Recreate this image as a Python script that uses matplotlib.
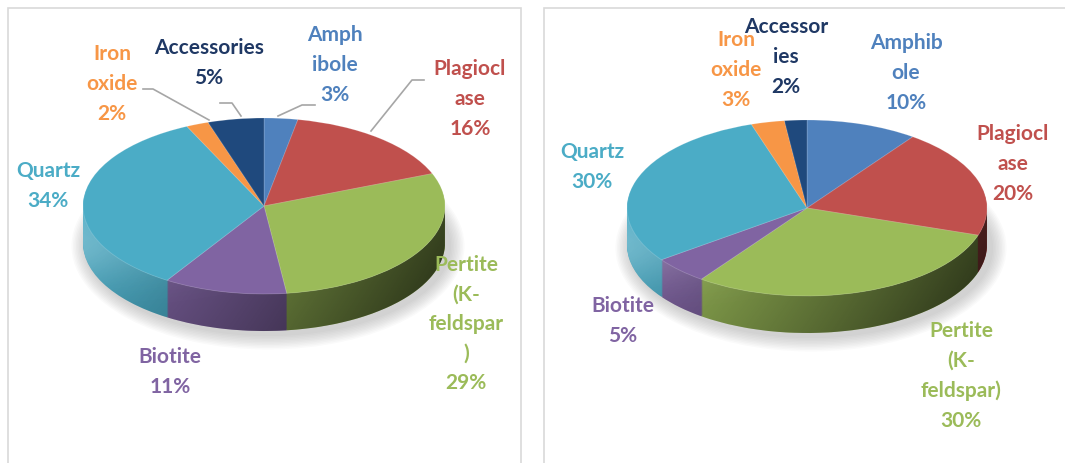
import numpy as np
import matplotlib
matplotlib.use("Agg")
import matplotlib.pyplot as plt
from matplotlib.patches import Rectangle, Ellipse, PathPatch
from matplotlib.path import Path
from matplotlib.transforms import Affine2D

# ---------------- data ----------------
minerals = ["Amphibole", "Plagioclase", "Pertite (K-feldspar)", "Biotite",
            "Quartz", "Iron oxide", "Accessories"]
values_left = [3, 16, 29, 11, 34, 2, 5]
values_right = [10, 20, 30, 5, 30, 3, 2]
# label text as wrapped in the reference
names_left = ["Amph\nibole", "Plagiocl\nase", "Pertite\n(K-\nfeldspar\n)", "Biotite",
              "Quartz", "Iron\noxide", "Accessories"]
names_right = ["Amphib\nole", "Plagiocl\nase", "Pertite\n(K-\nfeldspar)", "Biotite",
               "Quartz", "Iron\noxide", "Accessor\nies"]
colors = ["#4F81BD", "#C0504D", "#9BBB59", "#8064A2", "#4BACC6", "#F79646", "#1F497D"]
text_colors = ["#4F81BD", "#C0504D", "#9BBB59", "#8064A2", "#4BACC6", "#F79646", "#1F3864"]

# ---------------- layout (pixels) ----------------
W, H = 1065, 464
FONT = "Lato"

fig = plt.figure(figsize=(W / 100, H / 100), dpi=100)
ax = fig.add_axes([0, 0, 1, 1])


def Y(y):
    return H - y


def darker(c, f):
    r, g, b = matplotlib.colors.to_rgb(c)
    return (min(r * f, 1), min(g * f, 1), min(b * f, 1))


def pie3d(values, cx, cy, rx, ry, depth):
    s = ry / rx
    Yc = Y(cy)

    def squash(center_y):
        return (Affine2D().translate(-cx, -center_y).scale(1, s)
                .translate(cx, center_y) + ax.transData)

    # soft shadow
    for i in range(10):
        e = Ellipse((cx + 4, Yc - depth - 3), 2 * rx + 4 + 3 * i, 2 * ry + 4 + 3 * i,
                    facecolor="#808080", edgecolor="none", alpha=0.04, zorder=1)
        ax.add_patch(e)

    # side (stacked layers)
    for k in range(depth, 0, -1):
        wedges, _ = ax.pie(values, colors=[darker(c, 1.0) for c in colors],
                           startangle=90, counterclock=False,
                           center=(cx, Yc - k), radius=rx, frame=True,
                           wedgeprops=dict(linewidth=0))
        for w in wedges:
            w.set_transform(squash(Yc - k))
            w.set_zorder(2)

    # shading of side
    t = np.linspace(np.pi, 2 * np.pi, 200)
    top = np.column_stack([cx + rx * np.cos(t), Yc + ry * np.sin(t)])
    bot = np.column_stack([cx + rx * np.cos(t[::-1]), Yc - depth + ry * np.sin(t[::-1])])
    verts = np.vstack([top, bot, top[:1]])
    clip = PathPatch(Path(verts), facecolor="none", edgecolor="none", transform=ax.transData)
    ax.add_patch(clip)
    nx, ny = 300, 60
    u = np.linspace(0, 1, nx)[None, :].repeat(ny, 0)
    v = np.linspace(0, 1, ny)[:, None].repeat(nx, 1)
    dark = np.zeros((ny, nx, 4))
    dark[..., 3] = np.clip(0.62 * u ** 1.2 + 0.15 * v, 0, 1)
    light = np.ones((ny, nx, 4))
    light[..., 3] = 0.22 * (1 - u) ** 3 * np.exp(-((v - 0.3) / 0.3) ** 2)
    ext = (cx - rx, cx + rx, Yc - ry - depth, Yc)
    for img in (dark, light):
        im = ax.imshow(img, extent=ext, origin="upper", aspect="auto", zorder=3,
                       interpolation="bilinear")
        im.set_clip_path(clip)

    # top surface
    wedges, _ = ax.pie(values, colors=colors, startangle=90, counterclock=False,
                       center=(cx, Yc), radius=rx, frame=True,
                       wedgeprops=dict(linewidth=0.6, edgecolor=(1, 1, 1, 0.2)))
    for w in wedges:
        w.set_transform(squash(Yc))
        w.set_zorder(4)


def labels(names, values, positions):
    for name, v, (x, y), tc in zip(names, values, positions, text_colors):
        ax.text(x, Y(y), f"{name}\n{v}%", ha="center", va="center", color=tc,
                fontsize=15, fontweight="bold", family=FONT, linespacing=1.6,
                zorder=6)


# panels
ax.add_patch(Rectangle((8, Y(470)), 513, 461, facecolor="white", edgecolor="#D9D9D9",
                       linewidth=1.2, zorder=0))
ax.add_patch(Rectangle((544, Y(470)), 530, 461, facecolor="white", edgecolor="#D9D9D9",
                       linewidth=1.2, zorder=0))

pie3d(values_left, 264, 207, 181, 88, 37)
pie3d(values_right, 807, 209, 180, 88, 37)

pos_left = [(335, 65), (470, 99), (466, 324), (170, 372), (48, 186), (112, 84), (209, 63)]
pos_right = [(906, 73), (1013, 164), (961, 376), (623, 321), (592, 167), (736, 70), (786, 57)]
labels(names_left, values_left, pos_left)
labels(names_right, values_right, pos_right)

# leader lines (left chart)
leaders = [
    [(143, 90), (153, 90), (209, 121)],
    [(220, 104), (232, 104), (241, 117)],
    [(315, 106), (302, 106), (278, 117)],
    [(424, 81), (412, 81), (371, 132)],
]
for pts in leaders:
    xs = [p[0] for p in pts]
    ys = [Y(p[1]) for p in pts]
    ax.plot(xs, ys, color="#A6A6A6", linewidth=1.2, zorder=5)

ax.set_xlim(0, W)
ax.set_ylim(0, H)
ax.set_aspect("auto")
ax.axis("off")
fig.savefig("out.png", dpi=100, facecolor="white")
